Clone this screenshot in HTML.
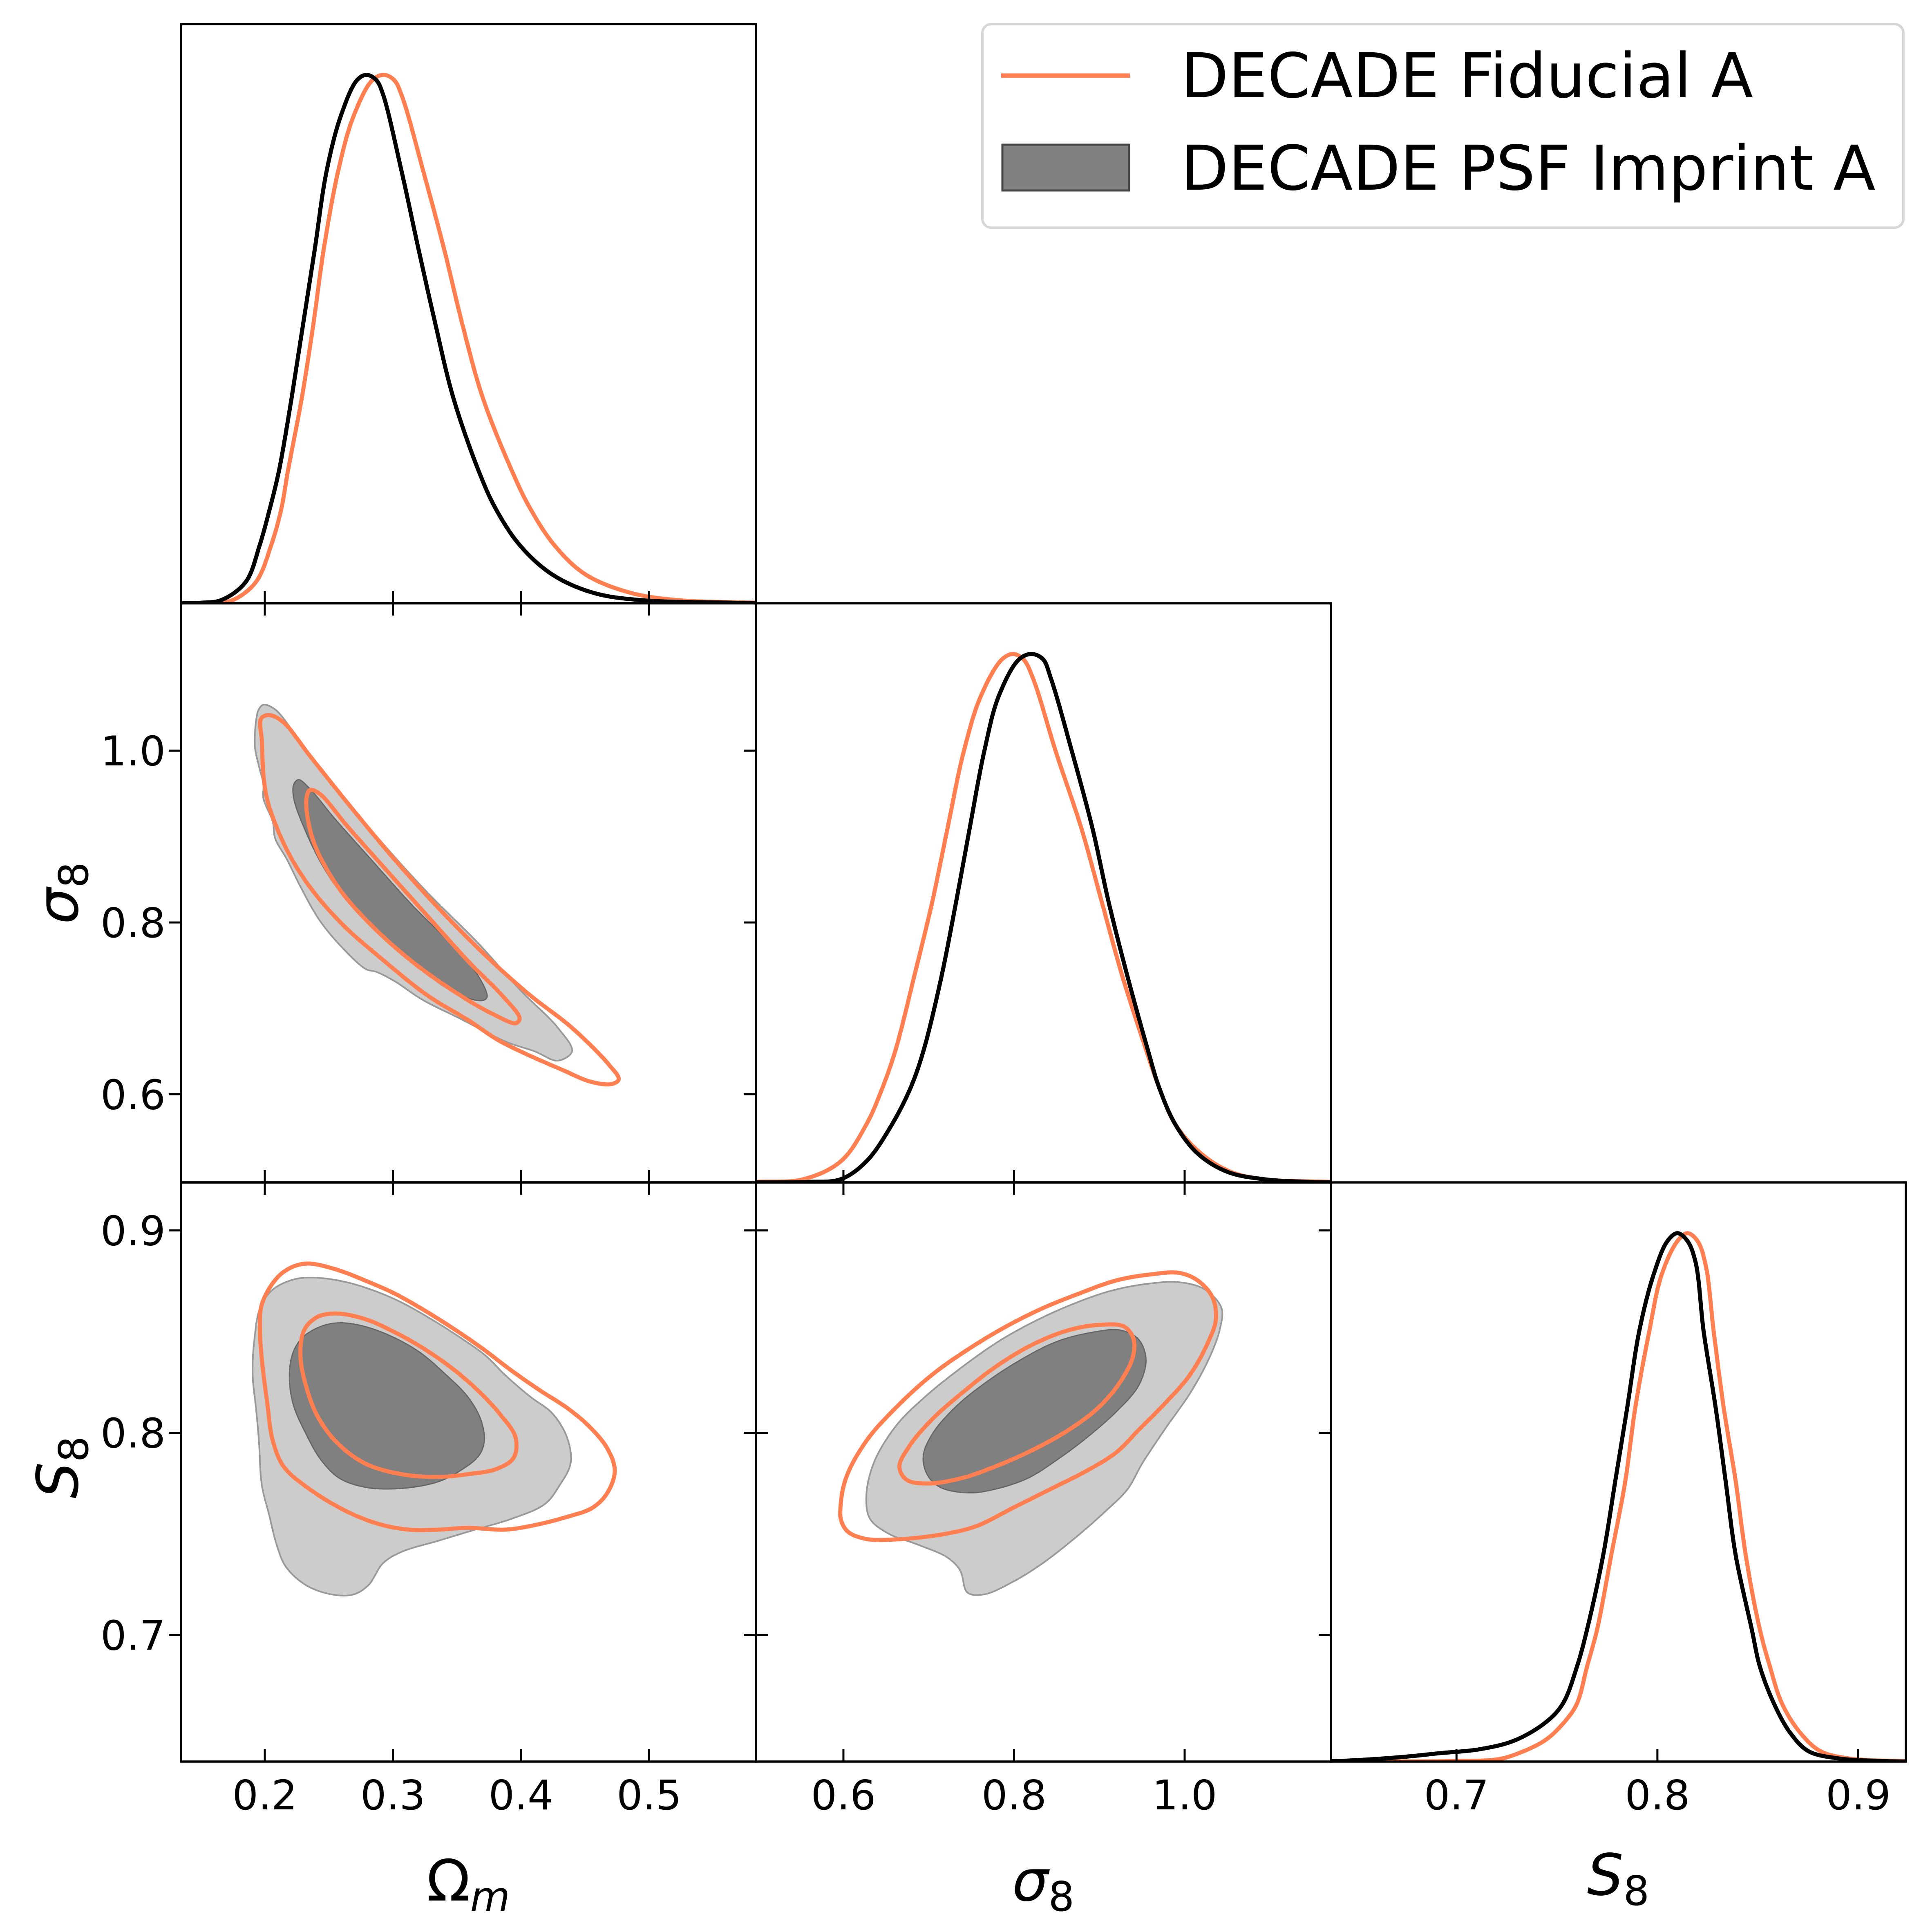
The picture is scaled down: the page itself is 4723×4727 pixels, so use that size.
<!DOCTYPE html>
<html><head><meta charset="utf-8">
<style>
html,body{margin:0;padding:0;background:#fff;}
svg{display:block;}
text{font-family:"DejaVu Sans","Liberation Sans",sans-serif;}
</style></head>
<body>
<svg id="chart" xmlns="http://www.w3.org/2000/svg" width="4723" height="4727" viewBox="0 0 4723 4727" style="position:absolute;left:0;top:0">
<rect x="0" y="0" width="4723" height="4727" fill="#fff"/>
<g id="marks"></g>
<g id="axes"></g>
<g id="legend">
  <rect x="2404" y="59" width="2254" height="498" rx="22" fill="#fff" stroke="#d6d6d6" stroke-width="6"/>
  <line x1="2450" y1="185" x2="2765" y2="185" stroke="#ff7f50" stroke-width="11"/>
  <text x="2890" y="238" font-size="151" fill="#000">DECADE Fiducial A</text>
  <rect x="2453" y="354" width="310" height="112" fill="#808080" stroke="#444" stroke-width="5"/>
  <text x="2890" y="464" font-size="151" fill="#000">DECADE PSF Imprint A</text>
</g>
<g>
  <text x="1146" y="4650" font-size="140" text-anchor="middle">Ω<tspan font-style="italic" font-size="100" dy="25">m</tspan></text>
  <text x="2553" y="4650" font-size="140" text-anchor="middle"><tspan font-style="italic">σ</tspan><tspan font-size="100" dy="25">8</tspan></text>
  <text x="3960" y="4636" font-size="140" text-anchor="middle"><tspan font-style="italic">S</tspan><tspan font-size="100" dy="25">8</tspan></text>
  <text transform="translate(190,2185) rotate(-90)" x="0" y="0" font-size="140" text-anchor="middle"><tspan font-style="italic">σ</tspan><tspan font-size="100" dy="25">8</tspan></text>
  <text transform="translate(190,3590) rotate(-90)" x="0" y="0" font-size="140" text-anchor="middle"><tspan font-style="italic">S</tspan><tspan font-size="100" dy="25">8</tspan></text>
</g>
</svg>
<script>
// ---------- data ----------
const paramNames = ["Omega_m", "sigma_8", "S_8"];
const omTicks = [0.2, 0.3, 0.4, 0.5];
const s8Ticks = [0.6, 0.8, 1.0];
const bigS8Ticks = [0.7, 0.8, 0.9];
const omTickLabels = ["0.2", "0.3", "0.4", "0.5"];
const s8TickLabels = ["0.6", "0.8", "1.0"];
const bigS8TickLabels = ["0.7", "0.8", "0.9"];

const omBlack = [[0.1346,0],[0.150,0.001],[0.166,0.006],[0.185,0.04],[0.196,0.11],[0.204,0.18],[0.211,0.25],[0.221,0.39],[0.230,0.53],[0.239,0.67],[0.248,0.815],[0.259,0.92],[0.272,0.99],[0.2795,1],[0.287,0.99],[0.292,0.965],[0.307,0.815],[0.320,0.67],[0.333,0.53],[0.347,0.39],[0.367,0.25],[0.380,0.18],[0.399,0.11],[0.424,0.055],[0.456,0.02],[0.493,0.006],[0.565,0.001],[0.5834,0]];
const omOrange = [[0.1346,0],[0.160,0.001],[0.175,0.006],[0.193,0.04],[0.205,0.11],[0.213,0.18],[0.218,0.25],[0.229,0.39],[0.238,0.53],[0.246,0.67],[0.257,0.815],[0.269,0.92],[0.284,0.99],[0.293,1],[0.301,0.99],[0.307,0.96],[0.324,0.815],[0.340,0.67],[0.354,0.53],[0.370,0.39],[0.393,0.25],[0.407,0.18],[0.426,0.11],[0.450,0.055],[0.485,0.02],[0.522,0.006],[0.5834,0.001]];
const s8Black = [[0.4975,0],[0.560,0.001],[0.597,0.006],[0.627,0.04],[0.657,0.11],[0.679,0.18],[0.694,0.25],[0.715,0.39],[0.732,0.53],[0.748,0.67],[0.765,0.815],[0.782,0.92],[0.806,0.99],[0.821,1],[0.834,0.99],[0.843,0.955],[0.868,0.815],[0.892,0.67],[0.911,0.53],[0.933,0.39],[0.957,0.25],[0.970,0.18],[0.989,0.11],[1.015,0.055],[1.050,0.02],[1.093,0.006],[1.145,0.001],[1.1715,0]];
const s8Orange = [[0.4975,0.001],[0.553,0.006],[0.597,0.04],[0.627,0.11],[0.646,0.18],[0.661,0.25],[0.683,0.39],[0.704,0.53],[0.722,0.67],[0.741,0.815],[0.761,0.92],[0.786,0.99],[0.799,1],[0.811,0.99],[0.822,0.955],[0.849,0.815],[0.879,0.67],[0.903,0.53],[0.927,0.39],[0.955,0.25],[0.970,0.18],[0.989,0.11],[1.019,0.055],[1.054,0.02],[1.093,0.006],[1.170,0.001]];
const bigS8Black = [[0.6375,0.001],[0.647,0.002],[0.674,0.009],[0.692,0.016],[0.711,0.023],[0.729,0.04],[0.745,0.076],[0.753,0.11],[0.760,0.18],[0.765,0.25],[0.773,0.39],[0.779,0.53],[0.785,0.67],[0.791,0.815],[0.798,0.92],[0.805,0.985],[0.810,1],[0.815,0.985],[0.819,0.945],[0.823,0.815],[0.829,0.67],[0.834,0.53],[0.839,0.39],[0.847,0.25],[0.851,0.18],[0.858,0.11],[0.866,0.055],[0.875,0.02],[0.890,0.006],[0.912,0.001],[0.9237,0]];
const bigS8Orange = [[0.6375,0],[0.700,0.001],[0.720,0.004],[0.729,0.013],[0.744,0.04],[0.754,0.076],[0.760,0.11],[0.765,0.18],[0.770,0.25],[0.777,0.39],[0.784,0.53],[0.789,0.67],[0.796,0.815],[0.802,0.92],[0.810,0.985],[0.815,1],[0.820,0.985],[0.824,0.94],[0.828,0.815],[0.833,0.67],[0.839,0.53],[0.844,0.39],[0.851,0.25],[0.856,0.18],[0.862,0.11],[0.871,0.055],[0.881,0.02],[0.895,0.006],[0.921,0.001],[0.9237,0.001]];

// Omega_m vs sigma_8
const omS8GreyOuter = [[0.1953,1.0480],[0.1989,1.0534],[0.2080,1.0480],[0.2281,1.0098],[0.2536,0.9608],[0.2901,0.8954],[0.3266,0.8354],[0.3668,0.7755],[0.3996,0.7210],[0.4288,0.6774],[0.4398,0.6501],[0.4288,0.6392],[0.4106,0.6501],[0.3887,0.6610],[0.3522,0.6883],[0.3230,0.7101],[0.3011,0.7319],[0.2865,0.7428],[0.2792,0.7455],[0.2609,0.7700],[0.2427,0.8027],[0.2281,0.8409],[0.2172,0.8736],[0.2080,0.8981],[0.2062,0.9172],[0.1989,0.9444],[0.1989,0.9608],[0.1953,0.9826],[0.1923,1.0044],[0.1934,1.0371]];
const omS8GreyInner = [[0.2226,0.9608],[0.2263,0.9662],[0.2354,0.9553],[0.2536,0.9226],[0.2828,0.8736],[0.3157,0.8191],[0.3449,0.7755],[0.3668,0.7373],[0.3734,0.7128],[0.3686,0.7090],[0.3449,0.7210],[0.3157,0.7537],[0.2865,0.7918],[0.2646,0.8245],[0.2464,0.8627],[0.2318,0.9063],[0.2226,0.9444]];
const omS8OrangeOuter = [[0.1971,1.0371],[0.2026,1.0414],[0.2135,1.0343],[0.2354,0.9935],[0.2646,0.9390],[0.3011,0.8736],[0.3376,0.8136],[0.3741,0.7591],[0.4069,0.7155],[0.4398,0.6774],[0.4690,0.6338],[0.4763,0.6174],[0.4708,0.6120],[0.4544,0.6147],[0.4325,0.6283],[0.4033,0.6474],[0.3814,0.6638],[0.3595,0.6856],[0.3266,0.7155],[0.2901,0.7591],[0.2609,0.7973],[0.2354,0.8409],[0.2172,0.8845],[0.2026,0.9390],[0.1989,0.9717],[0.1978,1.0098]];
const omS8OrangeInner = [[0.2328,0.9471],[0.2354,0.9542],[0.2427,0.9499],[0.2646,0.9117],[0.2938,0.8627],[0.3266,0.8082],[0.3595,0.7537],[0.3850,0.7155],[0.3989,0.6883],[0.3960,0.6828],[0.3777,0.6937],[0.3522,0.7155],[0.3157,0.7537],[0.2828,0.7973],[0.2573,0.8409],[0.2391,0.8899],[0.2328,0.9281]];

// Omega_m vs S_8
const omBigS8GreyOuter = [[0.1963,0.8616],[0.2063,0.8708],[0.2235,0.8759],[0.2407,0.8766],[0.2637,0.8744],[0.2866,0.8699],[0.3067,0.8644],[0.3297,0.8562],[0.3526,0.8470],[0.3727,0.8379],[0.3871,0.8288],[0.4072,0.8178],[0.4244,0.8096],[0.4359,0.7977],[0.4387,0.7849],[0.4301,0.7740],[0.4187,0.7648],[0.3928,0.7575],[0.3641,0.7521],[0.3354,0.7466],[0.3067,0.7411],[0.2924,0.7356],[0.2809,0.7247],[0.2694,0.7201],[0.2522,0.7201],[0.2321,0.7247],[0.2164,0.7338],[0.2092,0.7447],[0.2034,0.7594],[0.1977,0.7740],[0.1954,0.7959],[0.1934,0.8105],[0.1905,0.8288],[0.1920,0.8470]];
const omBigS8GreyInner = [[0.2293,0.8470],[0.2436,0.8525],[0.2580,0.8543],[0.2780,0.8525],[0.3010,0.8470],[0.3211,0.8397],[0.3412,0.8288],[0.3584,0.8178],[0.3684,0.8068],[0.3713,0.7959],[0.3670,0.7886],[0.3527,0.7813],[0.3354,0.7758],[0.3067,0.7725],[0.2780,0.7731],[0.2580,0.7776],[0.2436,0.7868],[0.2321,0.7995],[0.2221,0.8142],[0.2192,0.8288],[0.2221,0.8397]];
const omBigS8OrangeOuter = [[0.1977,0.8635],[0.2092,0.8763],[0.2207,0.8817],[0.2336,0.8836],[0.2551,0.8808],[0.2780,0.8753],[0.3010,0.8689],[0.3240,0.8607],[0.3469,0.8516],[0.3699,0.8416],[0.3928,0.8306],[0.4158,0.8205],[0.4359,0.8123],[0.4531,0.8032],[0.4674,0.7922],[0.4732,0.7813],[0.4674,0.7703],[0.4560,0.7630],[0.4359,0.7584],[0.4072,0.7539],[0.3871,0.7521],[0.3584,0.7530],[0.3354,0.7521],[0.3125,0.7521],[0.2895,0.7548],[0.2637,0.7612],[0.2350,0.7721],[0.2149,0.7831],[0.2063,0.7959],[0.2020,0.8142],[0.1977,0.8361],[0.1963,0.8507]];
const omBigS8OrangeInner = [[0.2307,0.8507],[0.2407,0.8571],[0.2551,0.8589],[0.2780,0.8562],[0.3010,0.8498],[0.3240,0.8416],[0.3469,0.8315],[0.3670,0.8205],[0.3842,0.8087],[0.3957,0.7977],[0.3943,0.7877],[0.3813,0.7822],[0.3584,0.7795],[0.3354,0.7782],[0.3067,0.7795],[0.2780,0.7849],[0.2551,0.7959],[0.2407,0.8087],[0.2321,0.8233],[0.2278,0.8379]];

// sigma_8 vs S_8
const s8BigS8GreyOuter = [[0.6268,0.7685],[0.6354,0.7849],[0.6613,0.8032],[0.6958,0.8178],[0.7389,0.8324],[0.7821,0.8452],[0.8252,0.8553],[0.8684,0.8635],[0.9115,0.8699],[0.9547,0.8735],[0.9935,0.8744],[1.0237,0.8708],[1.0432,0.8616],[1.0410,0.8507],[1.0280,0.8361],[1.0065,0.8196],[0.9763,0.8014],[0.9504,0.7849],[0.9331,0.7721],[0.9072,0.7612],[0.8727,0.7484],[0.8339,0.7356],[0.7994,0.7265],[0.7648,0.7201],[0.7454,0.7210],[0.7368,0.7320],[0.7217,0.7384],[0.6872,0.7447],[0.6526,0.7502],[0.6311,0.7575]];
const s8BigS8GreyInner = [[0.6936,0.7886],[0.7044,0.7995],[0.7303,0.8123],[0.7648,0.8242],[0.8080,0.8361],[0.8511,0.8452],[0.8943,0.8498],[0.9245,0.8507],[0.9461,0.8461],[0.9547,0.8361],[0.9461,0.8233],[0.9202,0.8105],[0.8857,0.7977],[0.8511,0.7868],[0.8166,0.7776],[0.7778,0.7721],[0.7476,0.7703],[0.7131,0.7731],[0.6980,0.7795]];
const s8BigS8OrangeOuter = [[0.5965,0.7630],[0.6030,0.7776],[0.6268,0.7959],[0.6613,0.8123],[0.7044,0.8288],[0.7476,0.8416],[0.7907,0.8525],[0.8339,0.8616],[0.8770,0.8689],[0.9202,0.8753],[0.9633,0.8784],[0.9935,0.8790],[1.0151,0.8753],[1.0324,0.8671],[1.0367,0.8562],[1.0280,0.8452],[1.0065,0.8288],[0.9763,0.8142],[0.9461,0.8014],[0.9202,0.7904],[0.8857,0.7813],[0.8425,0.7721],[0.7994,0.7630],[0.7562,0.7539],[0.7217,0.7502],[0.6699,0.7475],[0.6268,0.7475],[0.6052,0.7511],[0.5974,0.7566]];
const s8BigS8OrangeInner = [[0.6656,0.7831],[0.6785,0.7941],[0.7044,0.8068],[0.7389,0.8196],[0.7778,0.8324],[0.8209,0.8434],[0.8641,0.8507],[0.9029,0.8534],[0.9288,0.8525],[0.9396,0.8470],[0.9396,0.8379],[0.9245,0.8251],[0.8986,0.8123],[0.8641,0.8014],[0.8252,0.7922],[0.7821,0.7840],[0.7389,0.7776],[0.7001,0.7749],[0.6742,0.7767]];

// ---------- layout ----------
const NS = "http://www.w3.org/2000/svg";
const COLX = [443, 1850, 3257], ROWY = [59, 1476, 2893], PW = 1407, PH = 1417;
const RANGES = [[0.1346, 0.5834], [0.4975, 1.1715], [0.6375, 0.9237]];
const DENS_TOP = 1.096;
const ORANGE = "#ff7f50";
const LW = 10;

function sx(col, v) { const r = RANGES[col]; return COLX[col] + (v - r[0]) / (r[1] - r[0]) * PW; }
function sy(row, v) { const r = RANGES[row]; return ROWY[row] + PH - (v - r[0]) / (r[1] - r[0]) * PH; }
function sd(row, d) { return ROWY[row] + PH - d / DENS_TOP * PH; }

// centripetal Catmull-Rom -> cubic bezier
function smooth(pts, closed) {
  const n = pts.length;
  const get = i => closed ? pts[(i + n) % n] : pts[Math.max(0, Math.min(n - 1, i))];
  const dist = (a, b) => Math.max(1e-3, Math.pow(Math.hypot(a[0] - b[0], a[1] - b[1]), 0.5));
  let d = "M" + pts[0][0].toFixed(1) + "," + pts[0][1].toFixed(1);
  const last = closed ? n : n - 1;
  for (let i = 0; i < last; i++) {
    let p0 = get(i - 1), p1 = get(i), p2 = get(i + 1), p3 = get(i + 2);
    if (!closed && i === 0) p0 = [2 * p1[0] - p2[0], 2 * p1[1] - p2[1]];
    if (!closed && i === n - 2) p3 = [2 * p2[0] - p1[0], 2 * p2[1] - p1[1]];
    const d1 = dist(p0, p1), d2 = dist(p1, p2), d3 = dist(p2, p3);
    const c1 = [0, 1].map(k => (d1 * d1 * p2[k] - d2 * d2 * p0[k] + (2 * d1 * d1 + 3 * d1 * d2 + d2 * d2) * p1[k]) / (3 * d1 * (d1 + d2)));
    const c2 = [0, 1].map(k => (d3 * d3 * p1[k] - d2 * d2 * p3[k] + (2 * d3 * d3 + 3 * d3 * d2 + d2 * d2) * p2[k]) / (3 * d3 * (d3 + d2)));
    d += "C" + c1[0].toFixed(1) + "," + c1[1].toFixed(1) + " " + c2[0].toFixed(1) + "," + c2[1].toFixed(1) + " " + p2[0].toFixed(1) + "," + p2[1].toFixed(1);
  }
  return d + (closed ? "Z" : "");
}
function mk(tag, attrs, parent) {
  const el = document.createElementNS(NS, tag);
  for (const k in attrs) el.setAttribute(k, attrs[k]);
  parent.appendChild(el);
  return el;
}
const marks = document.getElementById("marks");
const axes = document.getElementById("axes");
const defs = mk("defs", {}, document.getElementById("chart"));

function clip(col, row) {
  const id = "clip" + col + row;
  const cp = mk("clipPath", { id: id }, defs);
  mk("rect", { x: COLX[col], y: ROWY[row], width: PW, height: PH }, cp);
  return "url(#" + id + ")";
}

function draw1D(idx, series, color, name) {
  const pts = series.map(p => [sx(idx, p[0]), sd(idx, p[1])]);
  const el = mk("path", { d: smooth(pts, false), fill: "none", stroke: color, "stroke-width": LW, "stroke-linejoin": "round", "clip-path": clip(idx, idx) }, marks);
  
  
}
function drawContour(col, row, series, fill, stroke, sw, name) {
  const pts = series.map(p => [sx(col, p[0]), sy(row, p[1])]);
  const el = mk("path", { d: smooth(pts, true), fill: fill, stroke: stroke, "stroke-width": sw, "stroke-linejoin": "round" }, marks);
  
  
}

// 1D
draw1D(0, omOrange, ORANGE, "omega-m-fiducial-curve");
draw1D(0, omBlack, "#000", "omega-m-psf-curve");
draw1D(1, s8Orange, ORANGE, "sigma-8-fiducial-curve");
draw1D(1, s8Black, "#000", "sigma-8-psf-curve");
draw1D(2, bigS8Orange, ORANGE, "s-8-fiducial-curve");
draw1D(2, bigS8Black, "#000", "s-8-psf-curve");

// 2D
drawContour(0, 1, omS8GreyOuter, "#cccccc", "#999", 4, "omega-sigma-psf-95");
drawContour(0, 1, omS8GreyInner, "#808080", "#666", 3, "omega-sigma-psf-68");
drawContour(0, 1, omS8OrangeOuter, "none", ORANGE, LW, "omega-sigma-fiducial-95");
drawContour(0, 1, omS8OrangeInner, "none", ORANGE, LW, "omega-sigma-fiducial-68");
drawContour(0, 2, omBigS8GreyOuter, "#cccccc", "#999", 4, "omega-s8-psf-95");
drawContour(0, 2, omBigS8GreyInner, "#808080", "#666", 3, "omega-s8-psf-68");
drawContour(0, 2, omBigS8OrangeOuter, "none", ORANGE, LW, "omega-s8-fiducial-95");
drawContour(0, 2, omBigS8OrangeInner, "none", ORANGE, LW, "omega-s8-fiducial-68");
drawContour(1, 2, s8BigS8GreyOuter, "#cccccc", "#999", 4, "sigma-s8-psf-95");
drawContour(1, 2, s8BigS8GreyInner, "#808080", "#666", 3, "sigma-s8-psf-68");
drawContour(1, 2, s8BigS8OrangeOuter, "none", ORANGE, LW, "sigma-s8-fiducial-95");
drawContour(1, 2, s8BigS8OrangeInner, "none", ORANGE, LW, "sigma-s8-fiducial-68");

// ---------- axes ----------
const TICKS = [omTicks, s8Ticks, bigS8Ticks];
const TLAB = [omTickLabels, s8TickLabels, bigS8TickLabels];
const TL = 30;
const panels = [[0,0],[0,1],[1,1],[0,2],[1,2],[2,2]];
panels.forEach(([col, row]) => {
  const x0 = COLX[col], y0 = ROWY[row];
  const fr = mk("rect", { x: x0, y: y0, width: PW, height: PH, fill: "none", stroke: "#000", "stroke-width": 5.5 }, axes);
  
  
  TICKS[col].forEach(v => {
    const x = sx(col, v);
    if (x < x0 || x > x0 + PW) return;
    mk("line", { x1: x, y1: y0 + PH, x2: x, y2: y0 + PH - TL, stroke: "#000", "stroke-width": 5 }, axes);
    if (row !== col) mk("line", { x1: x, y1: y0, x2: x, y2: y0 + TL, stroke: "#000", "stroke-width": 5 }, axes);
  });
  if (row !== col) {
    TICKS[row].forEach(v => {
      const y = sy(row, v);
      if (y < y0 || y > y0 + PH) return;
      if (col === 0) mk("line", { x1: x0, y1: y, x2: x0 - TL, y2: y, stroke: "#000", "stroke-width": 5 }, axes);
      else mk("line", { x1: x0, y1: y, x2: x0 + TL, y2: y, stroke: "#000", "stroke-width": 5 }, axes);
      mk("line", { x1: x0 + PW, y1: y, x2: x0 + PW - TL, y2: y, stroke: "#000", "stroke-width": 5 }, axes);
    });
  }
});
for (let col = 0; col < 3; col++) {
  TICKS[col].forEach((v, i) => {
    const t = mk("text", { x: sx(col, v), y: 4427, "font-size": 100, "text-anchor": "middle" }, axes);
    t.textContent = TLAB[col][i];
    
    
  });
}
for (let row = 1; row < 3; row++) {
  TICKS[row].forEach((v, i) => {
    const t = mk("text", { x: 405, y: sy(row, v) + 36, "font-size": 100, "text-anchor": "end" }, axes);
    t.textContent = TLAB[row][i];
    
    
  });
}
</script>
</body></html>
